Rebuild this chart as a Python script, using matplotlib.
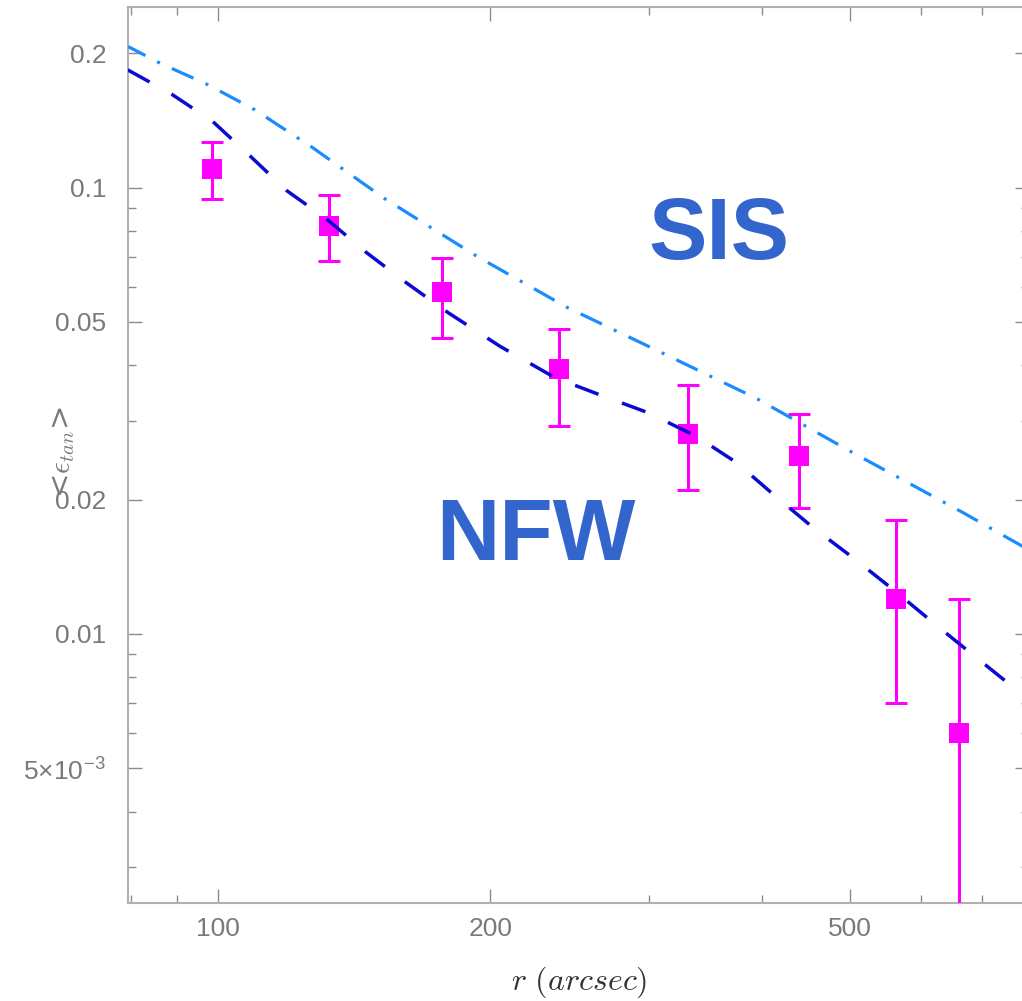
import numpy as np
import matplotlib
matplotlib.use("Agg")
import matplotlib.pyplot as plt
from matplotlib.ticker import FixedLocator, FixedFormatter, LogLocator, NullFormatter

plt.rcParams["lines.scale_dashes"] = False
plt.rcParams["mathtext.fontset"] = "cm"

# Measured tangential ellipticity in radial bins
r_bins = [98.5, 132.5, 177.0, 238.0, 331.0, 439.0, 563.0, 661.0]
e_tan = [0.110, 0.0822, 0.0582, 0.0392, 0.0280, 0.0251, 0.0120, 0.0060]
e_err_lo = [0.0158, 0.0139, 0.0122, 0.0100, 0.0070, 0.0060, 0.0050, 0.0058]
e_err_hi = [0.0163, 0.0141, 0.0113, 0.0090, 0.0082, 0.0060, 0.0060, 0.0060]

# Singular isothermal sphere model
sis_r = [79.5, 86.2, 97.4, 109.8, 127.3, 153.0, 193.4, 243.2, 309.7, 394.6,
         500.1, 667.3, 790.0]
sis_e = [0.2069, 0.190, 0.170, 0.1493, 0.1227, 0.0943, 0.0701, 0.0539, 0.04265,
         0.03365, 0.02568, 0.01869, 0.0154]

# NFW model
nfw_r = [79.4, 88.8, 98.65, 108.4, 119.0, 131.8, 145.9, 161.3, 179.5, 205.0,
         235.9, 265.7, 299.1, 338.3, 374.6, 413.0, 455.4, 504.3, 558.4, 615.8,
         678.9, 751.8, 790.0]
nfw_e = [0.1835, 0.1619, 0.1405, 0.1178, 0.0985, 0.0850, 0.0715, 0.0613, 0.0525,
         0.0441, 0.0375, 0.0342, 0.0313, 0.0277, 0.0242, 0.0204, 0.0173, 0.01480,
         0.01257, 0.01067, 0.00909, 0.00770, 0.00713]

x_major = [100, 200, 500]
x_major_labels = ["100", "200", "500"]
y_major = [0.2, 0.1, 0.05, 0.02, 0.01, 0.005]
y_major_labels = ["0.2", "0.1", "0.05", "0.02", "0.01", r"5×10$^{\mathregular{-3}}$"]

W, H = 1022, 1001
fig = plt.figure(figsize=(W / 100, H / 100), dpi=100)
ax_left, ax_right, ax_top, ax_bottom = 127.7, 1029.4, 7.3, 902.7
ax = fig.add_axes([ax_left / W, 1 - ax_bottom / H,
                   (ax_right - ax_left) / W, (ax_bottom - ax_top) / H])
ax.set_xscale("log")
ax.set_yscale("log")
ax.set_xlim(79.4, 790)
ax.set_ylim(0.0025, 0.2534)

magenta = "#ff00ff"
ax.errorbar(r_bins, e_tan, yerr=[e_err_lo, e_err_hi], fmt="none", ecolor=magenta,
            elinewidth=2.2, capsize=7.9, capthick=2.2, zorder=3)
ax.plot(r_bins, e_tan, linestyle="none", marker="s", ms=14.4, mew=0,
        color=magenta, zorder=3)

ax.plot(sis_r, sis_e, color="#1a8cff", lw=2.3,
        linestyle=(3, (17, 9.5, 2.2, 9.5)), dash_capstyle="butt", zorder=4)
ax.plot(nfw_r, nfw_e, color="#0a0ad2", lw=2.5, linestyle=(0, (18, 18)),
        dash_capstyle="butt", zorder=4)

label_font = "Liberation Sans"
ax.text(358, 0.0692, "SIS", fontsize=63, fontweight="bold", color="#3366cc",
        family=label_font, ha="center", va="baseline", zorder=5)
ax.text(224.7, 0.01467, "NFW", fontsize=63, fontweight="bold", color="#3366cc",
        family=label_font, ha="center", va="baseline", zorder=5)

ax.xaxis.set_major_locator(FixedLocator(x_major))
ax.xaxis.set_major_formatter(FixedFormatter(x_major_labels))
ax.xaxis.set_minor_locator(LogLocator(base=10, subs=np.arange(2, 10)))
ax.xaxis.set_minor_formatter(NullFormatter())
ax.yaxis.set_major_locator(FixedLocator(y_major))
ax.yaxis.set_major_formatter(FixedFormatter(y_major_labels))
ax.yaxis.set_minor_locator(LogLocator(base=10, subs=np.arange(2, 10)))
ax.yaxis.set_minor_formatter(NullFormatter())

grey = "#7a7a7a"
ax.tick_params(which="both", direction="in", top=True, right=True,
               color="#8c8c8c", width=1.0)
ax.tick_params(which="major", length=10)
ax.tick_params(which="minor", length=5.5)
ax.tick_params(axis="x", which="major", pad=10, labelsize=19, labelcolor=grey)
ax.tick_params(axis="y", which="major", pad=15.5, labelsize=19, labelcolor=grey)
for lab in ax.get_xticklabels() + ax.get_yticklabels():
    lab.set_family(label_font)
for sp in ax.spines.values():
    sp.set_color("#b0b0b0")
    sp.set_linewidth(1.5)

fig.text(579 / W, 1 - 982 / H, r"$r\ (arcsec)$", fontsize=23, color="#333333",
         ha="center", va="center")
fig.text(63 / W, 1 - 452 / H, r"<$\epsilon_{tan}$>", fontsize=21, color=grey,
         family="DejaVu Serif", rotation=90, ha="center", va="center")

fig.savefig("out.png", dpi=100)
